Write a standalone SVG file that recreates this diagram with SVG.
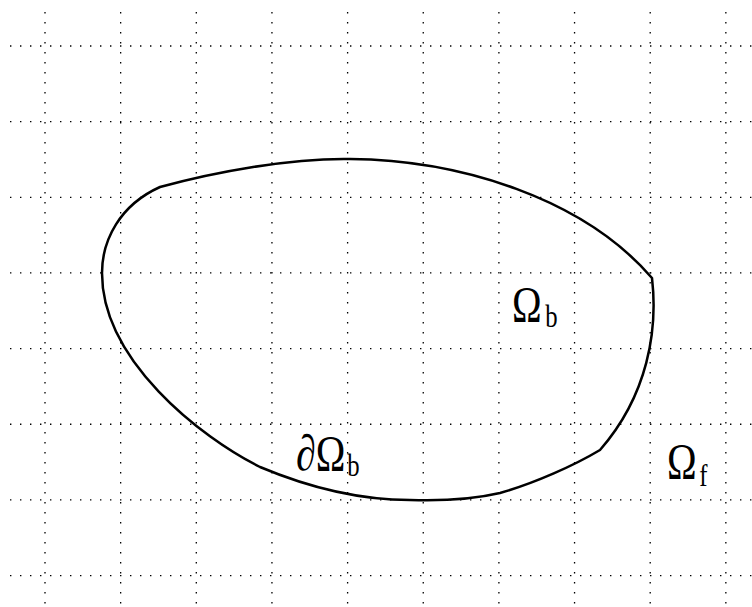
<svg xmlns="http://www.w3.org/2000/svg" width="752" height="607" viewBox="0 0 752 607">
<style>
.grid line{stroke:#000;stroke-width:1.3;stroke-dasharray:1.4 8.6}
.lbl{font-family:"Liberation Serif","DejaVu Serif",serif;fill:#000}
.big{font-size:42px}
.sub{font-size:26px}
</style>
<rect width="752" height="607" fill="#fff"/>
<g class="grid" id="grid">
<line x1="10" y1="46" x2="752" y2="46"/>
<line x1="10" y1="121.65" x2="752" y2="121.65"/>
<line x1="10" y1="197.3" x2="752" y2="197.3"/>
<line x1="10" y1="272.95" x2="752" y2="272.95"/>
<line x1="10" y1="348.6" x2="752" y2="348.6"/>
<line x1="10" y1="424.25" x2="752" y2="424.25"/>
<line x1="10" y1="499.9" x2="752" y2="499.9"/>
<line x1="10" y1="575.55" x2="752" y2="575.55"/>
<line x1="45" y1="12" x2="45" y2="607"/>
<line x1="120.65" y1="12" x2="120.65" y2="607"/>
<line x1="196.3" y1="12" x2="196.3" y2="607"/>
<line x1="271.95" y1="12" x2="271.95" y2="607"/>
<line x1="347.6" y1="12" x2="347.6" y2="607"/>
<line x1="423.25" y1="12" x2="423.25" y2="607"/>
<line x1="498.9" y1="12" x2="498.9" y2="607"/>
<line x1="574.55" y1="12" x2="574.55" y2="607"/>
<line x1="650.2" y1="12" x2="650.2" y2="607"/>
<line x1="725.85" y1="12" x2="725.85" y2="607"/>
</g>
<g id="boundary">
<path d="M160,187 C215,172 290,158 350,159 C460,160 583,198 652,278 C658,330 648,395 600,450 C575,465 535,483 500,493 C470,500 440,501 410,500 C360,500 310,488 260,467 C200,437 102,360 102,273 C102,240 120,205 160,187 Z" fill="none" stroke="#000" stroke-width="2.5" stroke-linejoin="round"/>
</g>
<g id="label-omega-b">
<text class="lbl" transform="translate(512,321) scale(0.95,1.2)"><tspan class="big" x="0" y="0">Ω</tspan><tspan class="sub" x="35" y="5">b</tspan></text>
</g>
<g id="label-boundary">
<text class="lbl" transform="translate(296,470) scale(0.95,1.2)"><tspan class="big" x="0" y="0">∂Ω</tspan><tspan class="sub" x="54" y="5">b</tspan></text>
</g>
<g id="label-omega-f">
<text class="lbl" transform="translate(667,478) scale(0.95,1.2)"><tspan class="big" x="0" y="0">Ω</tspan><tspan class="sub" x="34" y="7">f</tspan></text>
</g>
</svg>
